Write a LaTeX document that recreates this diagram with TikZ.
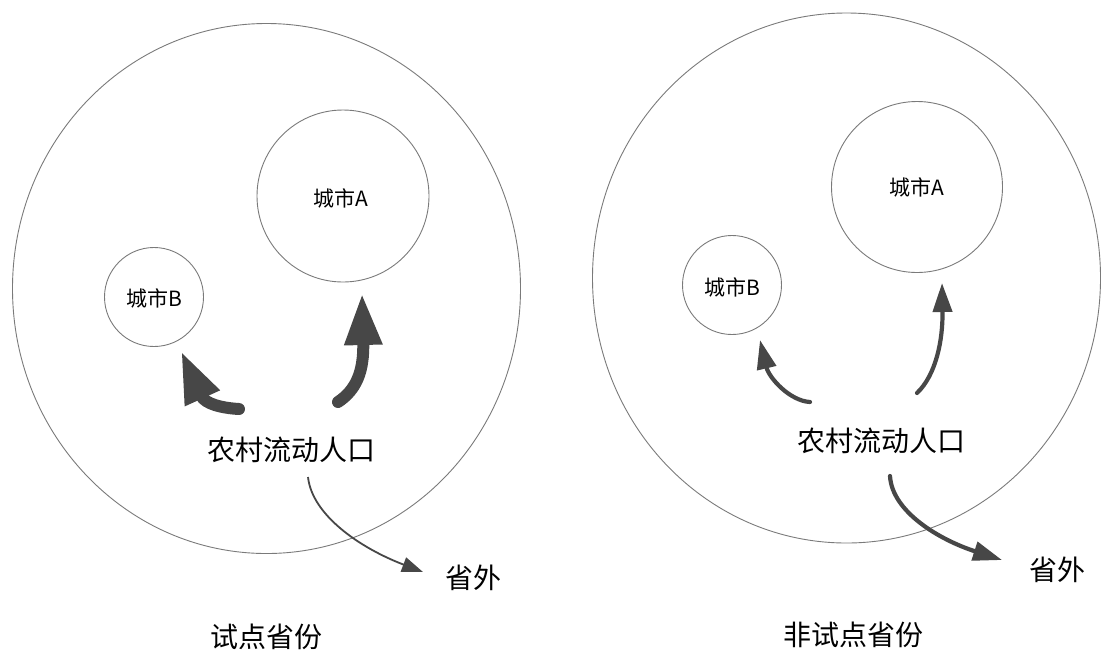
\documentclass[tikz,border=0pt]{standalone}
\usepackage{fontspec}
\newfontfamily\cjk{Noto Sans CJK SC}
\usetikzlibrary{arrows.meta,shapes.geometric}
\definecolor{arr}{HTML}{474747}
\definecolor{ring}{HTML}{7A7A7A}
\tikzset{
  big/.style={ellipse, draw=ring, line width=0.9pt, minimum width=508pt, minimum height=530pt, inner sep=0pt},
  city/.style={circle, draw=ring, line width=0.9pt, inner sep=0pt},
  citylab/.style={font=\cjk\fontsize{21}{21}\selectfont, text=black, inner sep=0pt},
  lab/.style={font=\cjk\fontsize{28}{28}\selectfont, text=black, inner sep=0pt},
  thick arr/.style={draw=arr, line width=12pt, line cap=round, -{Triangle[length=52pt,width=35pt]}},
  mid arr/.style={draw=arr, line width=4.2pt, line cap=round, -{Triangle[length=29pt,width=19pt]}},
  thin arr/.style={draw=arr, line width=1.8pt, -{Triangle[length=21pt,width=15pt]}},
}
\begin{document}
\begin{tikzpicture}[x=1pt,y=-1pt]
\useasboundingbox (0,0) rectangle (1107,657);
% left panel
\node[big] (L) at (266.5,288.5) {};
\node[city, minimum size=172pt] (LA) at (343,196) {};
\node[city, minimum size=99pt] (LB) at (154,297) {};
\node[citylab] (LAt) at (341,198) {城市A};
\node[citylab] (LBt) at (154,298) {城市B};
\node[lab] (Lr) at (291,450) {农村流动人口};
\node[lab] (Lo) at (473,578) {省外};
\node[lab] (Lt) at (266,637) {试点省份};
\coordinate (LbS) at (239,409);
\coordinate (LbE) at (181,351);
\coordinate (LaS) at (338,402);
\coordinate (LaE) at (362,293);
\coordinate (LoS) at (308,477);
\coordinate (LoE) at (423,572);
\draw[thick arr] (LbS) .. controls (222,408) and (205,404) .. (LbE);
\draw[thick arr] (LaS) .. controls (356,390) and (364,372) .. (LaE);
\draw[thin arr] (LoS) .. controls (312,515) and (360,548) .. (LoE);
% right panel
\node[big] (R) at (846.5,278) {};
\node[city, minimum size=171pt] (RA) at (917,187) {};
\node[city, minimum size=99pt] (RB) at (732,285) {};
\node[citylab] (RAt) at (917,187) {城市A};
\node[citylab] (RBt) at (732,287) {城市B};
\node[lab] (Rr) at (881,441) {农村流动人口};
\node[lab] (Ro) at (1057,570) {省外};
\node[lab] (Rt) at (853,635) {非试点省份};
\coordinate (RbS) at (810,402);
\coordinate (RbE) at (760,340);
\coordinate (RaS) at (917,393);
\coordinate (RaE) at (942,283);
\coordinate (RoS) at (890,476);
\coordinate (RoE) at (1002,560);
\draw[mid arr] (RbS) .. controls (790,401) and (769,378) .. (RbE);
\draw[mid arr] (RaS) .. controls (936,375) and (943,340) .. (RaE);
\draw[mid arr] (RoS) .. controls (892,512) and (940,540) .. (RoE);
\end{tikzpicture}
\end{document}
